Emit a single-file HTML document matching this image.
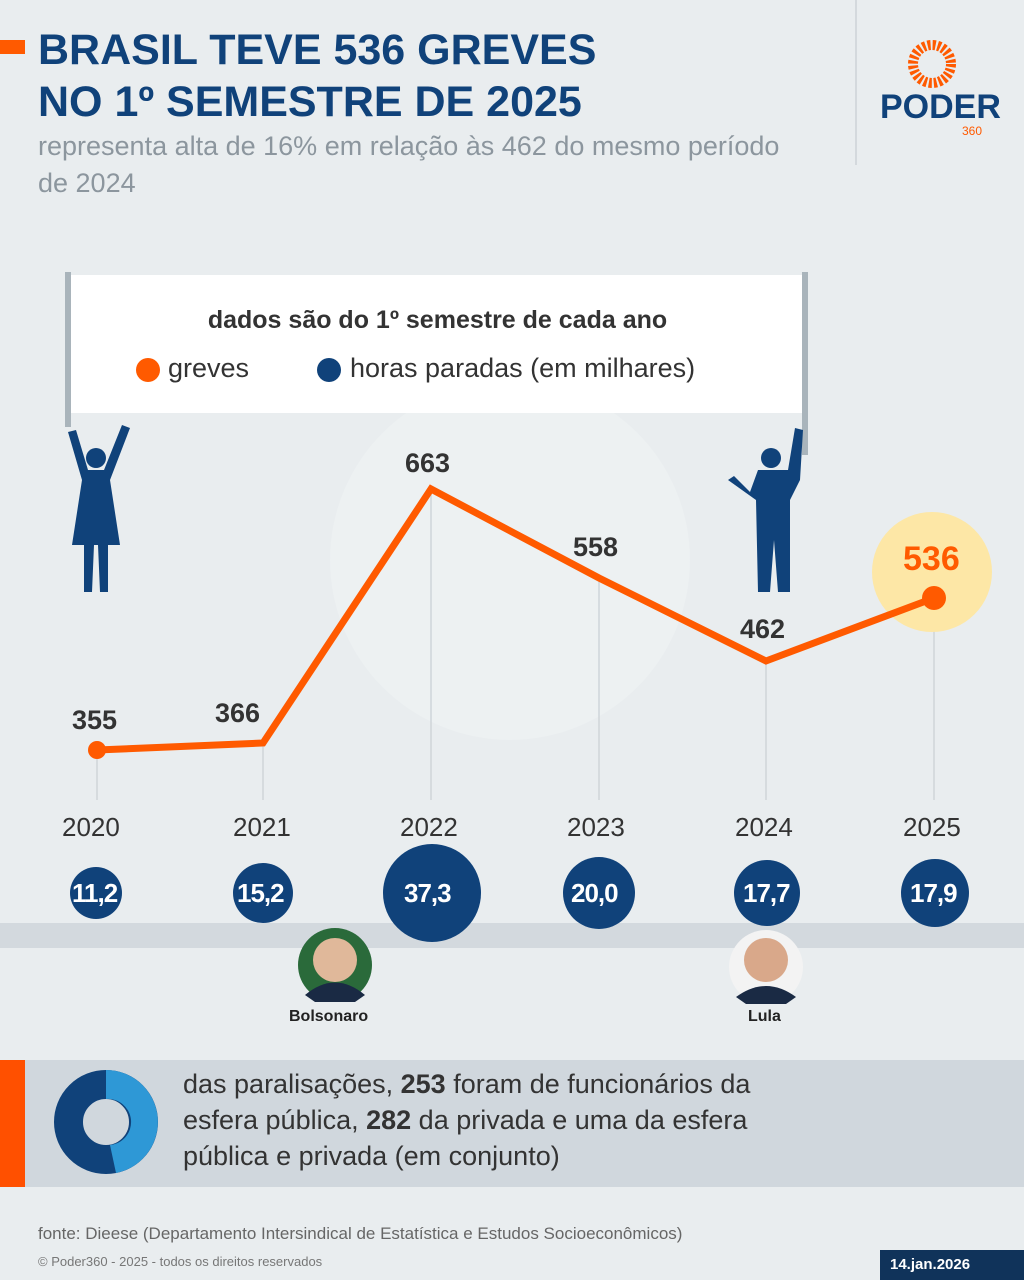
<!DOCTYPE html><html><head><meta charset="utf-8"><style>
body{margin:0;width:1024px;height:1280px;background:#e9edef;font-family:"Liberation Sans",sans-serif;position:relative;overflow:hidden}
.a{position:absolute}
</style></head><body>
<svg class="a" style="left:0;top:0" width="1024" height="1280">
<g fill="#eef1f2" opacity="0.8">
<circle cx="510" cy="560" r="180"/>
</g>
<line x1="856" y1="0" x2="856" y2="165" stroke="#d4d9dd" stroke-width="2"/>
<rect x="0" y="40" width="25" height="14" fill="#ff5a00"/>
<rect x="0" y="923" width="1024" height="25" fill="#d3d9de"/>
<rect x="25" y="1060" width="999" height="127" fill="#d0d7dd"/>
<rect x="0" y="1060" width="25" height="127" fill="#ff5000"/>
<circle cx="106" cy="1122" r="37.5" fill="none" stroke="#10427a" stroke-width="29"/>
<path d="M106 1070 A52 52 0 0 1 116 1173 L110 1145 A23 23 0 0 0 106 1099 Z" fill="#2e98d6"/>
<rect x="880" y="1250" width="144" height="30" fill="#10335a"/>
<g stroke="#cfd5d9" stroke-width="1.5">
<line x1="97" y1="750" x2="97" y2="800"/><line x1="263" y1="743" x2="263" y2="800"/>
<line x1="431" y1="489" x2="431" y2="800"/><line x1="599" y1="578" x2="599" y2="800"/>
<line x1="766" y1="661" x2="766" y2="800"/><line x1="934" y1="598" x2="934" y2="800"/>
</g>
<circle cx="932" cy="572" r="60" fill="#fde7a6"/>
<polyline points="97,750 263,743 431,489 599,578 766,661 934,598" fill="none" stroke="#ff5a00" stroke-width="7" stroke-linejoin="miter"/>
<circle cx="97" cy="750" r="9" fill="#ff5a00"/><circle cx="934" cy="598" r="12" fill="#ff5a00"/>
<rect x="70" y="275" width="735" height="138" fill="#fff"/>
<rect x="65" y="272" width="6" height="155" fill="#a9b4bb"/>
<rect x="802" y="272" width="6" height="183" fill="#a9b4bb"/>
<circle cx="148" cy="370" r="12" fill="#ff5a00"/><circle cx="329" cy="370" r="12" fill="#10427a"/>
<g fill="#10427a">
<circle cx="96" cy="458" r="10"/><path d="M68 432 L76 430 L88 470 L104 470 L122 425 L130 428 L110 480 L120 545 L108 545 L108 592 L100 592 L98 545 L94 545 L92 592 L84 592 L84 545 L72 545 L82 480 Z"/>
<circle cx="771" cy="458" r="10"/><path d="M728 480 L734 476 L750 492 L758 470 L788 470 L795 428 L803 430 L800 480 L790 500 L790 592 L778 592 L774 540 L770 592 L758 592 L756 500 Z"/>
</g>
<g fill="#10427a">
<circle cx="96" cy="893" r="26"/><circle cx="263" cy="893" r="30"/><circle cx="432" cy="893" r="49"/>
<circle cx="599" cy="893" r="36"/><circle cx="767" cy="893" r="33"/><circle cx="935" cy="893" r="34"/>
</g>
<circle cx="335" cy="965" r="37" fill="#2a6a3a"/><circle cx="335" cy="960" r="22" fill="#e0b89a"/><path d="M305 995 Q335 970 365 995 L355 1002 L315 1002Z" fill="#1a2a44"/>
<circle cx="766" cy="967" r="37" fill="#f3f3f3"/><circle cx="766" cy="960" r="22" fill="#d9a88a"/><path d="M736 997 Q766 975 796 997 L786 1004 L746 1004Z" fill="#1a2a44"/>
<circle cx="932" cy="64" r="19" fill="none" stroke="#ff5a00" stroke-width="10" stroke-dasharray="3 2"/>
</svg>
<div class="a" style="left:38px;top:24px;font-size:43px;font-weight:bold;color:#10427a;line-height:52px">BRASIL TEVE 536 GREVES<br>NO 1º SEMESTRE DE 2025</div>
<div class="a" style="left:38px;top:128px;font-size:27px;color:#8c969e;line-height:37px;width:800px">representa alta de 16% em relação às 462 do mesmo período<br>de 2024</div>
<div class="a" style="left:880px;top:88px;font-size:34px;font-weight:bold;color:#10427a">PODER</div>
<div class="a" style="left:962px;top:124px;font-size:12px;color:#ff5a00">360</div>
<div class="a" style="left:70px;top:306px;width:735px;text-align:center;font-size:25px;font-weight:bold;color:#333">dados são do 1º semestre de cada ano</div>
<div class="a" style="left:168px;top:353px;font-size:27px;color:#333">greves</div>
<div class="a" style="left:350px;top:353px;font-size:27px;color:#333">horas paradas (em milhares)</div>
<div class="a" style="font-size:27px;font-weight:bold;color:#333;left:0;top:0;width:1024px">
<span class="a" style="left:72px;top:705px">355</span><span class="a" style="left:215px;top:698px">366</span>
<span class="a" style="left:405px;top:448px">663</span><span class="a" style="left:573px;top:532px">558</span>
<span class="a" style="left:740px;top:614px">462</span><span class="a" style="left:903px;top:540px;color:#ff5a00;font-size:34px">536</span>
</div>
<div class="a" style="font-size:26px;color:#333;top:812px;left:0;width:1024px">
<span class="a" style="left:62px">2020</span><span class="a" style="left:233px">2021</span><span class="a" style="left:400px">2022</span>
<span class="a" style="left:567px">2023</span><span class="a" style="left:735px">2024</span><span class="a" style="left:903px">2025</span></div>
<div class="a" style="font-size:26px;font-weight:bold;color:#fff;top:878px;left:0;width:1024px;letter-spacing:-1px">
<span class="a" style="left:72px">11,2</span><span class="a" style="left:237px">15,2</span><span class="a" style="left:404px">37,3</span>
<span class="a" style="left:571px">20,0</span><span class="a" style="left:743px">17,7</span><span class="a" style="left:910px">17,9</span></div>
<div class="a" style="left:289px;top:1008px;font-size:16px;font-weight:bold;color:#222">Bolsonaro</div>
<div class="a" style="left:748px;top:1008px;font-size:16px;font-weight:bold;color:#222">Lula</div>
<div class="a" style="left:183px;top:1066px;font-size:27px;color:#333;line-height:36px">das paralisações, <b>253</b> foram de funcionários da<br>esfera pública, <b>282</b> da privada e uma da esfera<br>pública e privada (em conjunto)</div>
<div class="a" style="left:38px;top:1224px;font-size:17px;color:#666">fonte: Dieese (Departamento Intersindical de Estatística e Estudos Socioeconômicos)</div>
<div class="a" style="left:38px;top:1254px;font-size:13px;color:#777">© Poder360 - 2025 - todos os direitos reservados</div>
<div class="a" style="left:890px;top:1256px;font-size:15px;font-weight:bold;color:#fff">14.jan.2026</div>
</body></html>
